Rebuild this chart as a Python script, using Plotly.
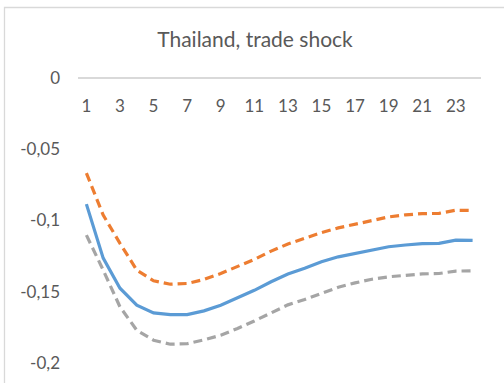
import plotly.graph_objects as go

periods = list(range(1, 25))
irf_mid = [-0.0885, -0.1264, -0.1475, -0.1594, -0.1648, -0.1660, -0.1660, -0.1634,
           -0.1594, -0.1543, -0.1490, -0.1430, -0.1375, -0.1335, -0.1290, -0.1255,
           -0.1230, -0.1205, -0.1184, -0.1172, -0.1162, -0.1161, -0.1138, -0.1140]
irf_upper = [-0.0667, -0.0962, -0.1160, -0.1348, -0.1423, -0.1447, -0.1442, -0.1414,
             -0.1372, -0.1325, -0.1273, -0.1215, -0.1165, -0.1125, -0.1085, -0.1052,
             -0.1025, -0.1000, -0.0975, -0.0960, -0.0952, -0.0950, -0.0928, -0.0930]
irf_lower = [-0.1103, -0.1348, -0.1606, -0.1770, -0.1840, -0.1868, -0.1865, -0.1838,
             -0.1805, -0.1758, -0.1705, -0.1648, -0.1592, -0.1555, -0.1510, -0.1468,
             -0.1438, -0.1412, -0.1395, -0.1385, -0.1375, -0.1372, -0.1355, -0.1353]
x_ticks = list(range(1, 24, 2))
y_ticks = [0, -0.05, -0.1, -0.15, -0.2]
y_tick_text = ["0", "-0,05", "-0,1", "-0,15", "-0,2"]
title_text = "Thailand, trade shock"

W, H = 504, 383
L, R, T, B = 78, 23, 78, 20
TXT = "#595959"
FONT = "Lato"

fig = go.Figure()
fig.add_trace(go.Scatter(x=periods, y=irf_mid, mode="lines",
                         line=dict(color="#5B9BD5", width=3.2), showlegend=False))
fig.add_trace(go.Scatter(x=periods, y=irf_upper, mode="lines",
                         line=dict(color="#ED7D31", width=3.2, dash="9px,5px"), showlegend=False))
fig.add_trace(go.Scatter(x=periods, y=irf_lower, mode="lines",
                         line=dict(color="#A5A5A5", width=3.2, dash="9px,5px"), showlegend=False))

pw = W - L - R
ph = H - T - B
def px(x):
    return (x - L) / pw
def py(y):
    return (H - B - y) / ph

fig.update_layout(
    width=W, height=H,
    margin=dict(l=L, r=R, t=T, b=B, pad=0, autoexpand=False),
    paper_bgcolor="white", plot_bgcolor="white",
    font=dict(family=FONT, color=TXT, size=17),
    title=dict(text=title_text, x=255 / W, xanchor="center", y=1 - 40 / H, yanchor="middle",
               yref="container", xref="container",
               font=dict(family=FONT, size=21, color=TXT)),
    xaxis=dict(range=[0.5, 24.5], side="bottom", anchor="free", position=1.0,
               tickmode="array", tickvals=x_ticks,
               ticktext=[str(v) for v in x_ticks],
               ticklabelstandoff=13, showgrid=False, zeroline=False, automargin=False,
               showline=True, linecolor="#D9D9D9", linewidth=1.5, ticks="",
               tickfont=dict(family=FONT, size=17, color=TXT)),
    yaxis=dict(range=[-0.2, 0], tickmode="array", tickvals=y_ticks, ticktext=y_tick_text,
               showgrid=False, zeroline=False, showline=False, ticks="", automargin=False,
               ticklabelstandoff=17,
               tickfont=dict(family=FONT, size=17, color=TXT)),
    shapes=[dict(type="path", xref="paper", yref="paper",
                 path=f"M {px(4.5)} {py(400)} L {px(4.5)} {py(7.5)} L {px(520)} {py(7.5)}",
                 line=dict(color="#D9D9D9", width=1.3), layer="below")],
)

fig.write_html("out.html", config={"displayModeBar": False},
               post_script="document.body.style.margin='0';document.body.style.overflow='hidden';")
